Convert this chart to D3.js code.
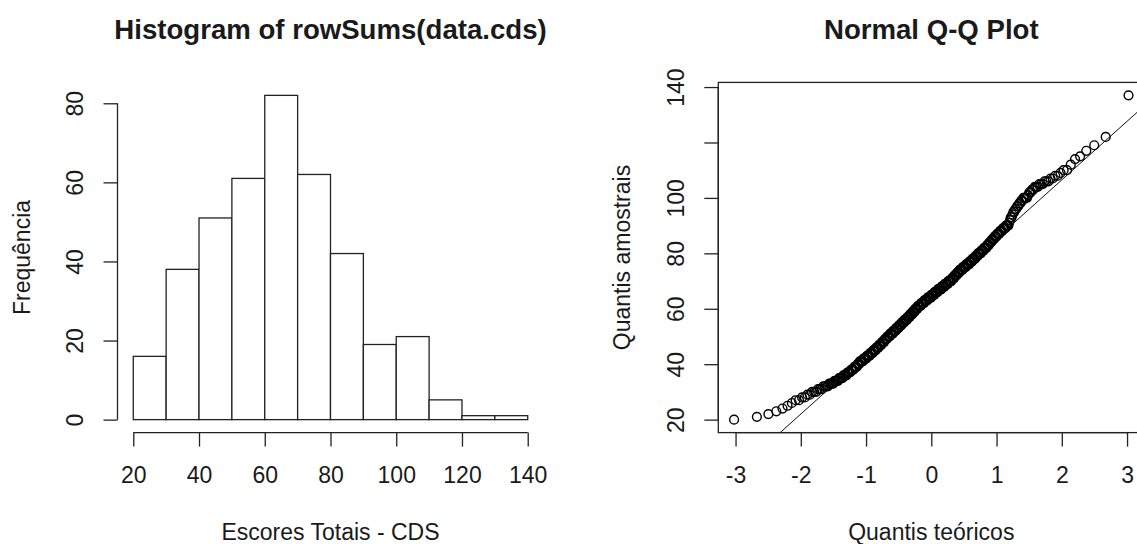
<!DOCTYPE html>
<html>
<head>
<meta charset="utf-8">
<script src="https://cdn.jsdelivr.net/npm/d3@7"></script>
<style>
body{margin:0;background:#fff;}
svg text{font-family:"Liberation Sans",Arial,sans-serif;fill:#1a1a1a;}
</style>
</head>
<body>
<svg id="chart" width="1137" height="544"></svg>
<script>
// ---- histogram data ----
var breaks = [20,30,40,50,60,70,80,90,100,110,120,130,140];
var freq   = [16,38,51,61,82,62,42,19,21,5,1,1];
var histXTicks = [20,40,60,80,100,120,140];
var histYTicks = [0,20,40,60,80];

// ---- the same scores, sorted, as level + how many times ----
var scoreLevels = [20,21,22,23,24,25,26,27,28,29,30,
	31,32,33,34,35,36,37,38,39,40,
	41,42,43,44,45,46,47,48,49,50,
	51,52,53,54,55,56,57,58,59,60,
	61,62,63,64,65,66,67,68,69,70,
	71,72,73,74,75,76,77,78,79,80,
	81,82,83,84,85,86,87,88,89,90,
	91,92,93,94,95,96,97,98,99,100,
	101,102,103,104,105,106,107,108,109,110,
	112,114,115,117,119,122,137];
var scoreCounts = [1,1,1,1,1,1,1,2,2,2,3,
	3,4,4,4,4,4,4,4,4,3,
	5,5,5,5,5,5,5,5,5,6,
	6,6,6,6,6,7,6,6,6,6,
	8,8,8,9,8,8,9,8,8,8,
	6,6,6,7,7,7,6,6,5,6,
	5,5,4,4,4,4,4,4,4,4,
	1,1,2,1,2,2,2,2,2,4,
	1,2,2,3,3,3,2,2,1,2,
	1,1,1,1,1,1,1];
var qqXTicks = [-3,-2,-1,0,1,2,3];
var qqYTicks = [20,40,60,80,100,120,140];

var svg = d3.select("#chart");
var top_y = 82.4, bottom_y = 432.6;
var fontSize = 23, titleSize = 27.6;

// R style: extend data range by 4% on each side
function pad(ext){
	var d = (ext[1]-ext[0])*0.04;
	return [ext[0]-d, ext[1]+d];
}

// inverse normal cdf (Acklam)
function qnorm(p){
	var a=[-3.969683028665376e+01,2.209460984245205e+02,-2.759285104469687e+02,1.383577518672690e+02,-3.066479806614716e+01,2.506628277459239e+00];
	var b=[-5.447609879822406e+01,1.615858368580409e+02,-1.556989798598866e+02,6.680131188771972e+01,-1.328068155288572e+01];
	var c=[-7.784894002430293e-03,-3.223964580411365e-01,-2.400758277161838e+00,-2.549732539343734e+00,4.374664141464968e+00,2.938163982698783e+00];
	var d=[7.784695709041462e-03,3.224671290700398e-01,2.445134137142996e+00,3.754408661907416e+00];
	var pl=0.02425, q, r;
	if(p<pl){
		q=Math.sqrt(-2*Math.log(p));
		return (((((c[0]*q+c[1])*q+c[2])*q+c[3])*q+c[4])*q+c[5])/((((d[0]*q+d[1])*q+d[2])*q+d[3])*q+1);
	}
	if(p>1-pl){
		q=Math.sqrt(-2*Math.log(1-p));
		return -(((((c[0]*q+c[1])*q+c[2])*q+c[3])*q+c[4])*q+c[5])/((((d[0]*q+d[1])*q+d[2])*q+d[3])*q+1);
	}
	q=p-0.5; r=q*q;
	return (((((a[0]*r+a[1])*r+a[2])*r+a[3])*r+a[4])*r+a[5])*q/(((((b[0]*r+b[1])*r+b[2])*r+b[3])*r+b[4])*r+1);
}

// plain labels, hyphen minus like R
var plain = function(d){ return String(d); };

// drop labels that come closer than one "m" to the last drawn one, like R's axis()
function thinLabels(g){
	var m = svg.append("text").attr("font-size",fontSize).text("m");
	var gap = m.node().getComputedTextLength();
	m.remove();
	var lastEnd = -Infinity;
	g.selectAll(".tick").each(function(){
		var t = d3.select(this).select("text");
		var w = t.node().getComputedTextLength();
		var pos = this.transform.baseVal.consolidate().matrix;
		var c = g.classed("vert") ? -pos.f : pos.e;
		if(c - w/2 < lastEnd + gap) t.remove();
		else lastEnd = c + w/2;
	});
}

function bottomAxis(g, scale, ticks){
	g.call(d3.axisBottom(scale).tickValues(ticks).tickFormat(plain).tickSize(14).tickSizeOuter(0));
	g.select(".domain").remove();
	g.append("line")
		.attr("x1", scale(ticks[0])).attr("x2", scale(ticks[ticks.length-1]))
		.attr("stroke","#222").attr("stroke-width",1.3);
	g.selectAll(".tick line").attr("stroke","#222").attr("stroke-width",1.3);
	g.selectAll(".tick text")
		.attr("y",42).attr("dy","0.35em")
		.attr("font-size",fontSize).attr("font-family",null).attr("fill",null);
	thinLabels(g);
}

function leftAxis(g, scale, ticks){
	g.classed("vert",true);
	g.call(d3.axisLeft(scale).tickValues(ticks).tickFormat(plain).tickSize(14).tickSizeOuter(0));
	g.select(".domain").remove();
	g.append("line")
		.attr("y1", scale(ticks[0])).attr("y2", scale(ticks[ticks.length-1]))
		.attr("stroke","#222").attr("stroke-width",1.3);
	g.selectAll(".tick line").attr("stroke","#222").attr("stroke-width",1.3);
	g.selectAll(".tick text")
		.attr("x",null).attr("dy","0.35em")
		.attr("transform","translate(-42.5,0) rotate(-90)")
		.attr("text-anchor","middle")
		.attr("font-size",fontSize).attr("font-family",null).attr("fill",null);
	thinLabels(g);
}

function titles(left, right, main, xlab, ylab){
	var cx = (left+right)/2, cy = (top_y+bottom_y)/2;
	svg.append("text").attr("x",cx).attr("y",39)
		.attr("text-anchor","middle").attr("font-size",titleSize).attr("font-weight","bold")
		.text(main);
	svg.append("text").attr("x",cx).attr("y",532).attr("dy","0.35em")
		.attr("text-anchor","middle").attr("font-size",fontSize)
		.text(xlab);
	svg.append("text").attr("transform","translate(" + (left-96) + "," + cy + ") rotate(-90)")
		.attr("dy","0.35em")
		.attr("text-anchor","middle").attr("font-size",fontSize)
		.text(ylab);
}

// ================= histogram =================
var hLeft = 117.5, hRight = 543.5;
var hx = d3.scaleLinear().domain(pad([breaks[0], breaks[breaks.length-1]])).range([hLeft, hRight]);
var hy = d3.scaleLinear().domain(pad([0, d3.max(freq)])).range([bottom_y, top_y]);

var bins = freq.map(function(f,i){ return {x0:breaks[i], x1:breaks[i+1], n:f}; });

svg.append("g").attr("class","bars")
	.selectAll("rect")
	.data(bins)
	.enter().append("rect")
	.attr("x", function(d){ return hx(d.x0); })
	.attr("y", function(d){ return hy(d.n); })
	.attr("width", function(d){ return hx(d.x1)-hx(d.x0); })
	.attr("height", function(d){ return hy(0)-hy(d.n); })
	.attr("fill","#fff")
	.attr("stroke","#222")
	.attr("stroke-width",1.3);

bottomAxis(svg.append("g").attr("transform","translate(0," + bottom_y + ")"), hx, histXTicks);
leftAxis(svg.append("g").attr("transform","translate(" + hLeft + ",0)"), hy, histYTicks);
titles(hLeft, hRight, "Histogram of rowSums(data.cds)", "Escores Totais - CDS", "Frequência");

// ================= normal Q-Q =================
var qLeft = 718.3, qRight = 1144.3;
var scores = [];
scoreLevels.forEach(function(v,i){
	for(var k = 0; k < scoreCounts[i]; k++) scores.push(v);
});
var n = scores.length;
// ppoints(n) for n > 10
var pts = scores.map(function(v,i){ return {t: qnorm((i+0.5)/n), s: v}; });

var qx = d3.scaleLinear().domain(pad(d3.extent(pts, function(d){ return d.t; }))).range([qLeft, qRight]);
var qy = d3.scaleLinear().domain(pad(d3.extent(scores))).range([bottom_y, top_y]);

svg.append("clipPath").attr("id","qqclip")
	.append("rect").attr("x",qLeft).attr("y",top_y).attr("width",qRight-qLeft).attr("height",bottom_y-top_y);

// qqline through the quartiles
var yq = [d3.quantile(scores,0.25), d3.quantile(scores,0.75)];
var xq = [qnorm(0.25), qnorm(0.75)];
var slope = (yq[1]-yq[0])/(xq[1]-xq[0]);
var icpt = yq[0] - slope*xq[0];
var xd = qx.domain();
svg.append("line").attr("clip-path","url(#qqclip)")
	.attr("x1", qx(xd[0])).attr("y1", qy(icpt + slope*xd[0]))
	.attr("x2", qx(xd[1])).attr("y2", qy(icpt + slope*xd[1]))
	.attr("stroke","#111").attr("stroke-width",1);

svg.append("g").attr("class","points")
	.selectAll("circle")
	.data(pts)
	.enter().append("circle")
	.attr("cx", function(d){ return qx(d.t); })
	.attr("cy", function(d){ return qy(d.s); })
	.attr("r",4.4)
	.attr("fill","none")
	.attr("stroke","#000")
	.attr("stroke-width",1.4);

// box (right side falls outside the picture)
svg.append("rect")
	.attr("x",qLeft).attr("y",top_y).attr("width",qRight-qLeft).attr("height",bottom_y-top_y)
	.attr("fill","none").attr("stroke","#222").attr("stroke-width",1.3);

bottomAxis(svg.append("g").attr("transform","translate(0," + bottom_y + ")"), qx, qqXTicks);
leftAxis(svg.append("g").attr("transform","translate(" + qLeft + ",0)"), qy, qqYTicks);
titles(qLeft, qRight, "Normal Q-Q Plot", "Quantis teóricos", "Quantis amostrais");
</script>
</body>
</html>
